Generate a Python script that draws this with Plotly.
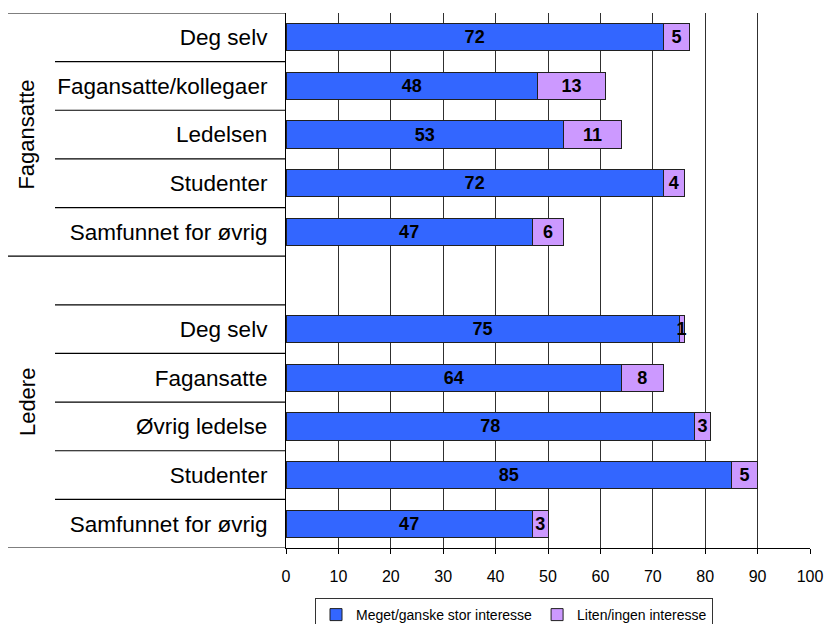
import plotly.graph_objects as go

groups = ["Fagansatte", "Ledere"]
cat_fag = ["Deg selv", "Fagansatte/kollegaer", "Ledelsen", "Studenter", "Samfunnet for øvrig"]
cat_led = ["Deg selv", "Fagansatte", "Øvrig ledelse", "Studenter", "Samfunnet for øvrig"]
stor_fag = [72, 48, 53, 72, 47]
liten_fag = [5, 13, 11, 4, 6]
stor_led = [75, 64, 78, 85, 47]
liten_led = [1, 8, 3, 5, 3]
series_names = ["Meget/ganske stor interesse", "Liten/ingen interesse"]
x_ticks = [0, 10, 20, 30, 40, 50, 60, 70, 80, 90, 100]

labels = cat_fag + [""] + cat_led
pos = list(range(len(labels)))
stor = stor_fag + [None] + stor_led
liten = liten_fag + [None] + liten_led

FONT = "Liberation Sans, Arial, sans-serif"
FIG_W, FIG_H = 826, 624
L, W_PLOT, T, H_PLOT = 286, 524, 13, 535

fig = go.Figure()
for name, vals, col in [(series_names[0], stor, "#3366FF"), (series_names[1], liten, "#CC99FF")]:
    fig.add_trace(go.Bar(
        y=pos, x=vals, orientation="h", name=name,
        marker=dict(color=col, line=dict(color="#202020", width=1)),
        text=[("" if v is None else str(v)) for v in vals],
        textposition="inside", insidetextanchor="middle", constraintext="none",
        textfont=dict(family=FONT, size=18, color="black", weight="bold"),
        cliponaxis=False, hoverinfo="skip",
    ))

shapes = []
short_x = (55 - L) / W_PLOT
long_x = (8 - L) / W_PLOT
n1 = len(cat_fag)
for b in range(len(labels) + 1):
    yb = b - 0.5
    long = b in (0, n1, len(labels))
    shapes.append(dict(type="line", xref="paper", yref="y", x0=long_x if long else short_x, x1=0,
                       y0=yb, y1=yb, line=dict(color="black", width=1.2)))

gx = (27 - L) / W_PLOT
annotations = [
    dict(text=groups[0], xref="paper", yref="y", x=gx, xanchor="center", yanchor="middle",
         y=(n1 - 1) / 2, textangle=-90,
         showarrow=False, font=dict(family=FONT, size=22, color="black")),
    dict(text=groups[1], xref="paper", yref="y", x=gx, xanchor="center", yanchor="middle",
         y=n1 + (len(cat_led)) / 2, textangle=-90,
         showarrow=False, font=dict(family=FONT, size=22, color="black")),
]

fig.update_layout(
    width=FIG_W, height=FIG_H,
    margin=dict(l=L, r=FIG_W - L - W_PLOT, t=T, b=FIG_H - T - H_PLOT),
    barmode="stack", bargap=0.44,
    plot_bgcolor="white", paper_bgcolor="white",
    uniformtext=dict(mode=False),
    shapes=shapes, annotations=annotations,
    showlegend=True,
    legend=dict(orientation="h", x=(514 - L) / W_PLOT, xanchor="center",
                yref="container", y=1 - 598 / FIG_H, yanchor="top",
                bordercolor="#333333", borderwidth=1, font=dict(family=FONT, size=14, color="black"),
                itemwidth=30, traceorder="normal"),
    font=dict(family=FONT, color="black"),
)
fig.update_xaxes(range=[0, 100], tickvals=x_ticks, showgrid=True, gridcolor="#303030", gridwidth=1,
                 showline=True, linecolor="black", linewidth=1.2, ticks="outside", ticklen=5,
                 tickcolor="black", tickfont=dict(family=FONT, size=16, color="black"), zeroline=False,
                 ticklabelstandoff=9, automargin=False)
fig.update_yaxes(range=[len(labels) - 0.5, -0.5], tickvals=pos, ticktext=labels, showgrid=False,
                 showline=True, linecolor="black", linewidth=1.2, ticks="", ticklabelstandoff=13,
                 tickfont=dict(family=FONT, size=22.5, color="black"), zeroline=False, automargin=False)
fig.write_html("out.html", config={"displayModeBar": False},
               post_script="document.body.style.margin='0';document.body.style.overflow='hidden';")
